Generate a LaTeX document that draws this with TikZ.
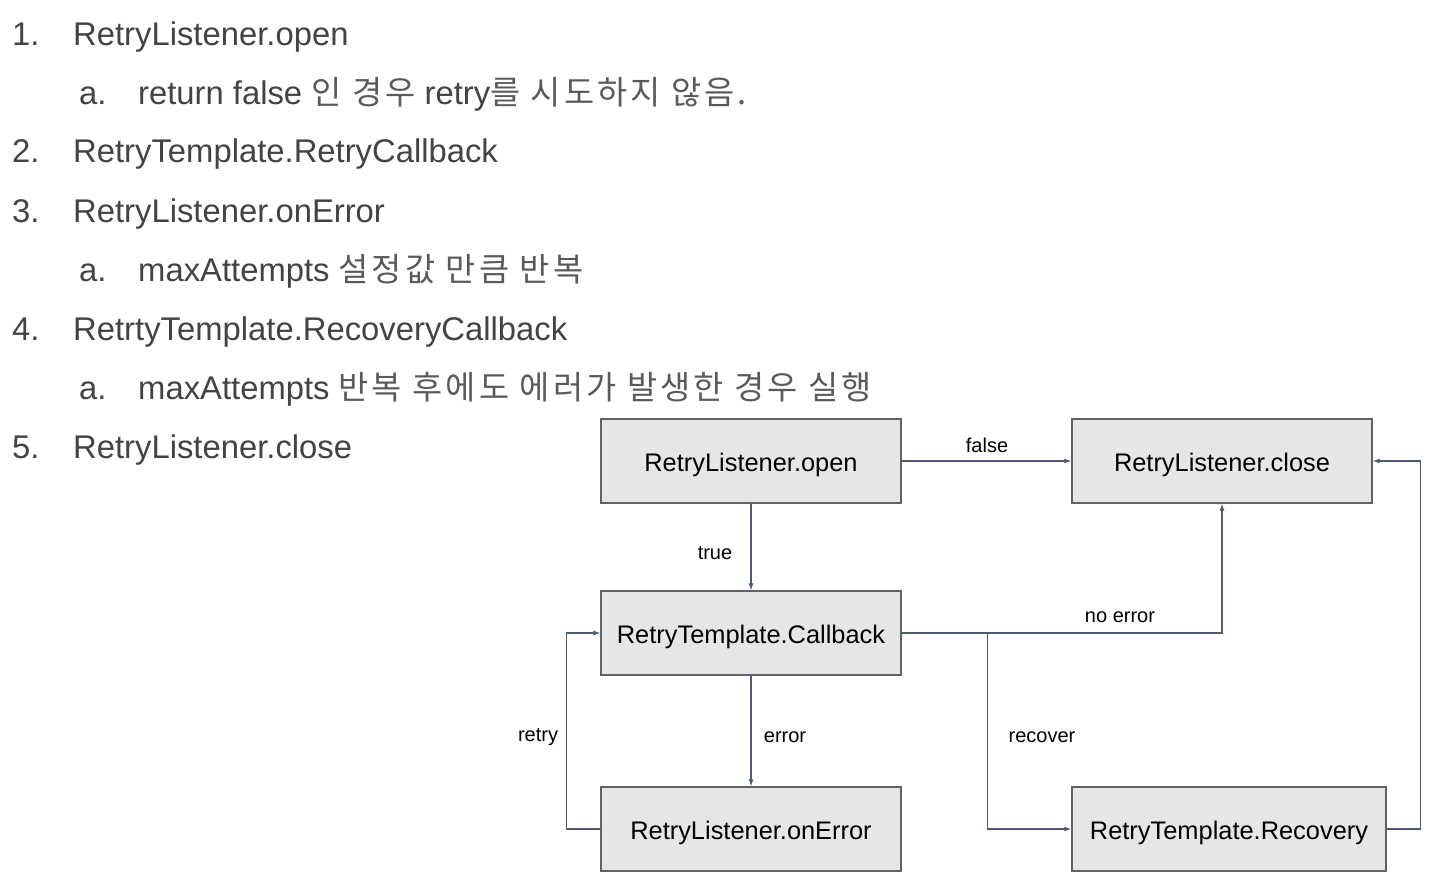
\documentclass[tikz,border=0pt]{standalone}
\usepackage{fontspec}
\setmainfont{Liberation Sans}
\newfontfamily\kr[LetterSpace=9.5]{Noto Sans CJK KR}
\usetikzlibrary{arrows.meta}
\definecolor{listtxt}{HTML}{434343}
\definecolor{krtxt}{HTML}{5A5A5A}
\definecolor{boxfill}{HTML}{E6E6E6}
\definecolor{boxline}{HTML}{5F6368}
\definecolor{arrline}{HTML}{4E5B73}
\newcommand{\hk}[1]{{\kr\color{krtxt}#1}}
\tikzset{
  item/.style={anchor=base west, inner sep=0, text=listtxt, font=\fontsize{32.8}{38}\selectfont},
  box/.style={draw=boxline, line width=1.1pt, fill=boxfill, minimum width=300pt, minimum height=84pt, inner sep=0, text height=25pt, text depth=5pt, font=\fontsize{25.4}{30}\selectfont},
  lbl/.style={inner sep=0, font=\fontsize{20}{24}\selectfont},
  arr/.style={draw=arrline, line width=1.2pt, -{Latex[length=7pt,width=5pt]}}
}
\begin{document}
\begin{tikzpicture}[x=1pt,y=-1pt]
\useasboundingbox (0,0) rectangle (1443,880);
% list
\node[item] (n1) at (12,46) {1.};
\node[item] (t1) at (73,46) {RetryListener.open};
\node[item] (na) at (79,105) {a.};
\node[item] (ta) at (138,105) {return false \hk{인 경우} retry\hk{를 시도하지 않음.}};
\node[item] (n2) at (12,163) {2.};
\node[item] (t2) at (73,163) {RetryTemplate.RetryCallback};
\node[item] (n3) at (12,222) {3.};
\node[item] (t3) at (73,222) {RetryListener.onError};
\node[item] (nb) at (79,281) {a.};
\node[item] (tb) at (138,281) {maxAttempts \hk{설정값 만큼 반복}};
\node[item] (n4) at (12,340) {4.};
\node[item] (t4) at (73,340) {RetrtyTemplate.RecoveryCallback};
\node[item] (nc) at (79,399) {a.};
\node[item] (tc) at (138,399) {maxAttempts \hk{반복 후에도 에러가 발생한 경우 실행}};
\node[item] (n5) at (12,458) {5.};
\node[item] (t5) at (73,458) {RetryListener.close};
% boxes
\node[box] (open) at (751,461) {RetryListener.open};
\node[box] (close) at (1222,461) {RetryListener.close};
\node[box] (cb) at (751,633) {RetryTemplate.Callback};
\node[box] (err) at (751,829) {RetryListener.onError};
\node[box, minimum width=314pt] (rec) at (1229,829) {RetryTemplate.Recovery};
% connectors
\draw[arr] (open.east) -- (close.west);
\draw[arr] (open.south) -- (cb.north);
\draw[arr] (cb.east) -| (close.south);
\draw[arr] (cb.east) -- ++(86,0) |- (rec.west);
\draw[arr] (cb.south) -- (err.north);
\draw[arr] (err.west) -- ++(-34,0) |- (cb.west);
\draw[arr] (rec.east) -- ++(34,0) |- (close.east);
% labels
\node[lbl] (lfalse) at (987,445) {false};
\node[lbl] (ltrue) at (715,553) {true};
\node[lbl] (lnoerr) at (1120,617) {no error};
\node[lbl] (lrecover) at (1042,737) {recover};
\node[lbl] (lerror) at (785,737) {error};
\node[lbl] (lretry) at (538,737) {retry};
\end{tikzpicture}
\end{document}
